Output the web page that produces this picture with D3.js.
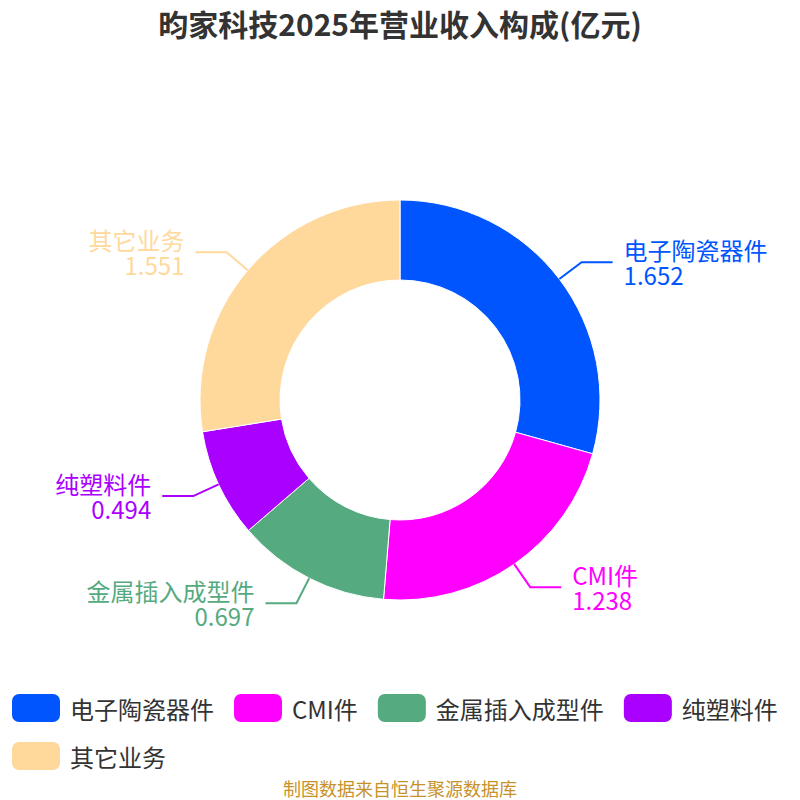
<!DOCTYPE html>
<html>
<head>
<meta charset="utf-8">
<script src="https://cdn.jsdelivr.net/npm/d3@7"></script>
<style>
  html, body { margin: 0; padding: 0; background: #fff; }
  svg { display: block; font-family: "Noto Sans CJK SC", "Noto Sans", sans-serif; }
</style>
</head>
<body>
<svg id="chart" width="800" height="800"></svg>
<script>
// 昀家科技 2025 revenue mix (亿元), clockwise from 12 o'clock
const categories = ["电子陶瓷器件", "CMI件", "金属插入成型件", "纯塑料件", "其它业务"];
const values = [1.652, 1.238, 0.697, 0.494, 1.551];
const colors = ["#0055ff", "#ff00ff", "#55aa80", "#aa00ff", "#ffd99c"];

const titleText = "昀家科技2025年营业收入构成(亿元)";
const sourceText = "制图数据来自恒生聚源数据库";

const svg = d3.select("#chart");
const W = 800, cx = 400, cy = 400;
const rInner = 120, rOuter = 200;
const len1 = 28, len2 = 31, gap = 11;

svg.append("text").attr("x", W / 2).attr("y", 23)
  .attr("text-anchor", "middle").attr("dominant-baseline", "central")
  .attr("font-size", 30).attr("font-weight", "bold")
  .attr("fill", "#333").text(titleText);

const data = categories.map((c, i) => ({ name: c, value: values[i], color: colors[i] }));
const pie = d3.pie().sort(null).value(d => d.value);
const arcs = pie(data);
const arc = d3.arc().innerRadius(rInner).outerRadius(rOuter);

const g = svg.append("g").attr("transform", `translate(${cx},${cy})`);
g.selectAll("path").data(arcs).enter().append("path")
  .attr("d", arc).attr("fill", d => d.data.color)
  .attr("stroke", "#fff").attr("stroke-width", 1);

// label lines + two-line labels
arcs.forEach(a => {
  const mid = (a.startAngle + a.endAngle) / 2;
  const sx = Math.sin(mid), sy = -Math.cos(mid);
  const side = sx >= 0 ? 1 : -1;
  const p1 = [sx * rOuter, sy * rOuter];
  const p2 = [sx * (rOuter + len1), sy * (rOuter + len1)];
  const p3 = [p2[0] + side * len2, p2[1]];
  g.append("polyline")
    .attr("points", [p1, p2, p3].map(p => p.join(",")).join(" "))
    .attr("fill", "none").attr("stroke", a.data.color).attr("stroke-width", 2);
  const tx = p3[0] + side * gap;
  const t = g.append("text")
    .attr("text-anchor", side > 0 ? "start" : "end")
    .attr("font-size", 24).attr("fill", a.data.color);
  t.append("tspan").attr("x", tx).attr("y", p3[1] - 13)
    .attr("dominant-baseline", "central").text(a.data.name);
  t.append("tspan").attr("x", tx).attr("y", p3[1] + 12)
    .attr("dominant-baseline", "central").text(d3.format(".3f")(a.data.value));
});

// legend, wraps like a flow layout
const legend = svg.append("g");
const itemW = 48, itemH = 28, itemGap = 20, rowH = 48;
let lx = 12, ly = 694;
data.forEach(d => {
  const item = legend.append("g");
  const txt = item.append("text").attr("x", itemW + 10).attr("y", itemH / 2)
    .attr("dominant-baseline", "central").attr("font-size", 24)
    .attr("fill", "#333").text(d.name);
  const w = itemW + 10 + txt.node().getComputedTextLength();
  if (lx + w > W - 5) { lx = 12; ly += rowH; }
  item.attr("transform", `translate(${lx},${ly})`);
  item.insert("rect", "text").attr("width", itemW).attr("height", itemH)
    .attr("rx", 7).attr("ry", 7).attr("fill", d.color);
  lx += w + itemGap;
});

svg.append("text").attr("x", W / 2).attr("y", 788)
  .attr("text-anchor", "middle").attr("dominant-baseline", "central")
  .attr("font-size", 18).attr("fill", "#c8922a").text(sourceText);
</script>
</body>
</html>
